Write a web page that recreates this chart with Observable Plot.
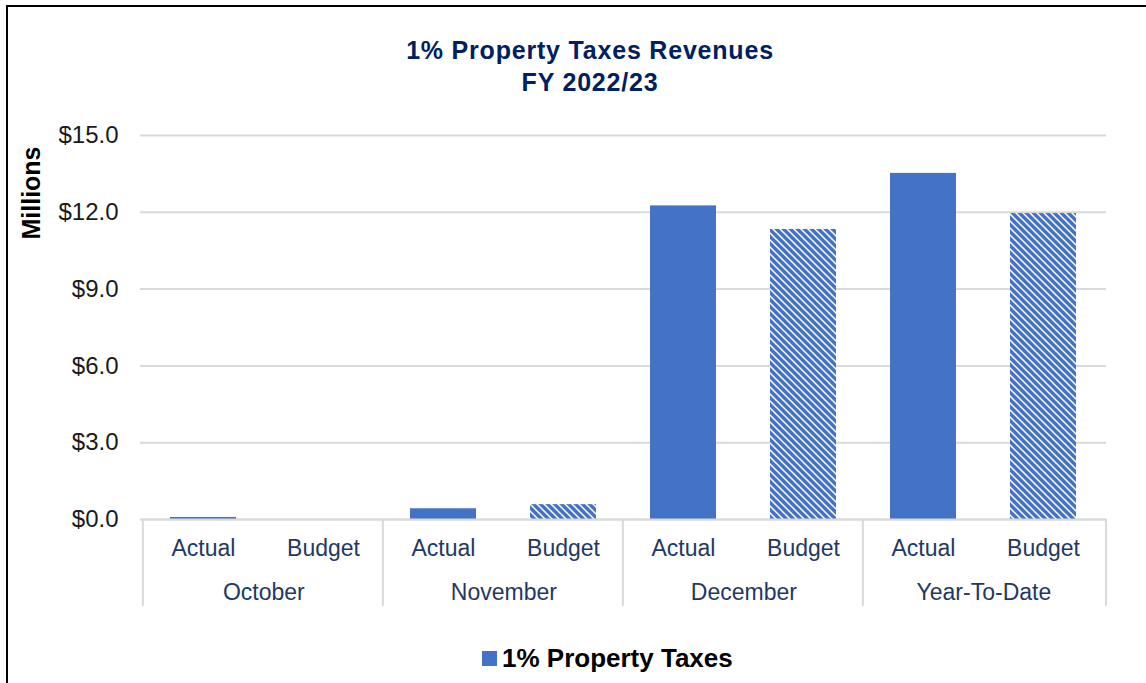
<!DOCTYPE html>
<html><head><meta charset="utf-8">
<script src="https://cdn.jsdelivr.net/npm/d3@7"></script>
<script src="https://cdn.jsdelivr.net/npm/@observablehq/plot@0.6"></script>
<style>
body{margin:0;background:#fff;font-family:"Liberation Sans",Arial,sans-serif;}
#wrap{position:relative;width:1146px;height:683px;overflow:hidden;background:#fff;}
#frame{position:absolute;left:6px;top:5px;width:1200px;height:720px;border-left:2px solid #000;border-top:2px solid #000;}
#title{position:absolute;left:290px;width:600px;top:34px;text-align:center;color:#002060;font-weight:bold;font-size:25px;letter-spacing:0.8px;line-height:32px;}
#ylab{position:absolute;left:31px;top:193px;transform:translate(-50%,-50%) rotate(-90deg);font-weight:bold;font-size:25px;color:#000;white-space:nowrap;}
#chart{position:absolute;left:0;top:100px;}
#legend{position:absolute;top:643px;left:482px;display:flex;align-items:center;font-weight:bold;font-size:26px;color:#000;white-space:nowrap;}
#legend span.sw{display:inline-block;width:15px;height:15px;background:#4472C4;margin-right:5px;}
</style></head>
<body>
<div id="wrap">
  <div id="frame"></div>
  <div id="title">1% Property Taxes Revenues<br>FY 2022/23</div>
  <div id="ylab">Millions</div>
  <div id="chart"></div>
  <div id="legend"><span class="sw"></span>1% Property Taxes</div>
</div>
<script>
const months = ["October", "November", "December", "Year-To-Date"];
const types = ["Actual", "Budget"];
const actual = [0.08, 0.42, 12.25, 13.52];
const budget = [0, 0.58, 11.33, 11.95];
const yTicks = [0, 3, 6, 9, 12, 15];

const rows = months.flatMap((m, i) => [
  {key: m + "|Actual", month: m, type: "Actual", value: actual[i]},
  {key: m + "|Budget", month: m, type: "Budget", value: budget[i]}
]);
const keys = rows.map(d => d.key);

const W = 1146, H = 520, mL = 140, mR = 40, mT = 35, mB = 101;
const padIn = 0.45, padOut = padIn / 2;
const step = (W - mL - mR) / keys.length;

const separators = (index, scales, values, dims) => {
  const g = d3.create("svg:g");
  const yb = dims.height - dims.marginBottom;
  const xs = months.map(m => scales.x(m + "|Actual") - padOut * step);
  xs.push(dims.width - dims.marginRight);
  g.selectAll("line").data(xs).join("line")
    .attr("x1", d => d).attr("x2", d => d)
    .attr("y1", yb).attr("y2", yb + 87)
    .attr("stroke", "#D9D9D9").attr("stroke-width", 2);
  return g.node();
};

const chart = Plot.plot({
  width: W, height: H,
  marginLeft: mL, marginRight: mR, marginTop: mT, marginBottom: mB,
  style: {fontFamily: '"Liberation Sans", Arial, sans-serif', fontSize: "24px", background: "transparent"},
  x: {domain: keys, paddingInner: padIn, paddingOuter: padOut, axis: null},
  y: {domain: [0, 15]},
  marks: [
    Plot.gridY(yTicks, {stroke: "#D9D9D9", strokeWidth: 2, strokeOpacity: 1}),
    Plot.axisY(yTicks, {tickSize: 0, tickPadding: 22, tickFormat: d => "$" + d.toFixed(1), fill: "#1a1a1a", fontSize: 24, label: null}),
    Plot.barY(rows.filter(d => d.type === "Actual"), {x: "key", y: "value", fill: "#4472C4"}),
    Plot.barY(rows.filter(d => d.type === "Budget"), {x: "key", y: "value", fill: "url(#hatch)"}),
    Plot.ruleY([0], {stroke: "#D9D9D9", strokeWidth: 2}),
    separators,
    Plot.text(rows, {x: "key", text: "type", frameAnchor: "bottom", dy: 36, fill: "#1F3864", fontSize: 23}),
    Plot.text(months, {x: m => m + "|Actual", dx: step / 2, text: d => d, frameAnchor: "bottom", dy: 80, fill: "#1F3864", fontSize: 23})
  ]
});

// hatch pattern (wide downward diagonal)
const svg = d3.select(chart);
const defs = svg.insert("defs", ":first-child");
const pat = defs.append("pattern").attr("id", "hatch")
  .attr("patternUnits", "userSpaceOnUse").attr("width", 7).attr("height", 7);
pat.append("rect").attr("width", 7).attr("height", 7).attr("fill", "#4472C4");
pat.append("path").attr("d", "M-2,-2 L9,9 M-2,5 L2,9 M5,-2 L9,2")
  .attr("stroke", "#fff").attr("stroke-width", 1.5);

document.getElementById("chart").appendChild(chart);
</script>
</body></html>
